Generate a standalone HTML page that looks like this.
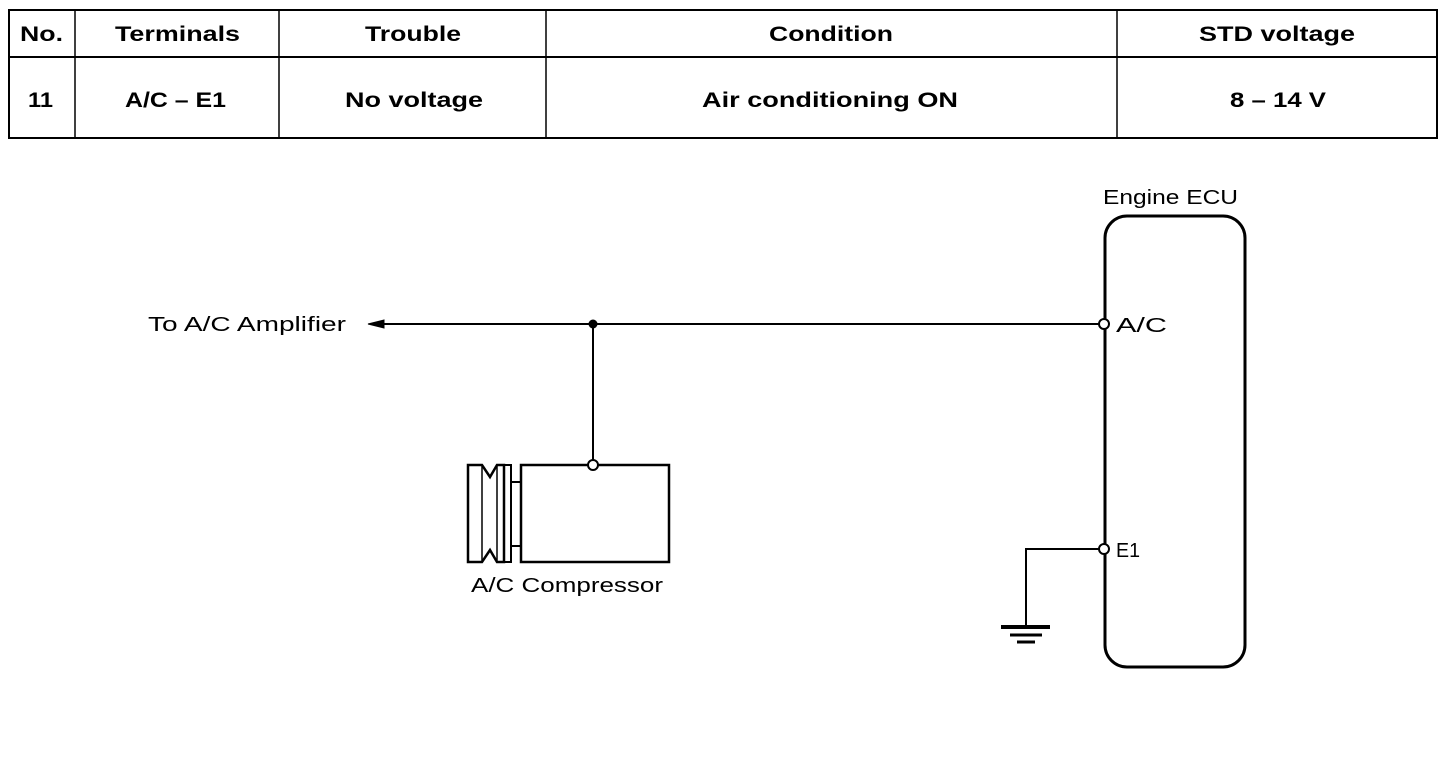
<!DOCTYPE html>
<html><head><style>
body{margin:0;background:#fff;width:1456px;height:770px;overflow:hidden;font-family:"Liberation Sans",sans-serif}
</style></head><body>
<svg width="1456" height="770" xmlns="http://www.w3.org/2000/svg" style="position:absolute;left:0;top:0">
<g fill="none" stroke="#000">
<rect x="9" y="10" width="1428" height="128" stroke-width="2"/>
<line x1="9" y1="57" x2="1437" y2="57" stroke-width="2"/>
<line x1="75" y1="10" x2="75" y2="138" stroke-width="1.5"/>
<line x1="279" y1="10" x2="279" y2="138" stroke-width="1.5"/>
<line x1="546" y1="10" x2="546" y2="138" stroke-width="1.5"/>
<line x1="1117" y1="10" x2="1117" y2="138" stroke-width="1.5"/>
</g>
<g font-family="Liberation Sans, sans-serif" font-weight="bold" font-size="21" fill="#000">
<text x="20" y="41" textLength="43" lengthAdjust="spacingAndGlyphs">No.</text>
<text x="115" y="41" textLength="125" lengthAdjust="spacingAndGlyphs">Terminals</text>
<text x="365" y="41" textLength="96" lengthAdjust="spacingAndGlyphs">Trouble</text>
<text x="769" y="41" textLength="124" lengthAdjust="spacingAndGlyphs">Condition</text>
<text x="1199" y="41" textLength="156" lengthAdjust="spacingAndGlyphs">STD voltage</text>
<text x="28" y="107" textLength="25" lengthAdjust="spacingAndGlyphs">11</text>
<text x="125" y="107" textLength="101" lengthAdjust="spacingAndGlyphs">A/C – E1</text>
<text x="345" y="107" textLength="138" lengthAdjust="spacingAndGlyphs">No voltage</text>
<text x="702" y="107" textLength="256" lengthAdjust="spacingAndGlyphs">Air conditioning ON</text>
<text x="1230" y="107" textLength="96" lengthAdjust="spacingAndGlyphs">8 – 14 V</text>
</g>
<g font-family="Liberation Sans, sans-serif" font-size="20" fill="#000">
<text x="1103" y="204" textLength="135" lengthAdjust="spacingAndGlyphs">Engine ECU</text>
<text x="148" y="331" textLength="198" lengthAdjust="spacingAndGlyphs">To A/C Amplifier</text>
<text x="1116" y="332" textLength="51" lengthAdjust="spacingAndGlyphs">A/C</text>
<text x="1116" y="557" textLength="24" lengthAdjust="spacingAndGlyphs">E1</text>
<text x="471" y="592" textLength="192" lengthAdjust="spacingAndGlyphs">A/C Compressor</text>
</g>
<g fill="none" stroke="#000">
<rect x="1105" y="216" width="140" height="451" rx="22" stroke-width="3"/>
<line x1="370" y1="324" x2="1099" y2="324" stroke-width="2"/>
<path d="M368 324 L384 320 L384 328 Z" fill="#000"/>
<line x1="593" y1="324" x2="593" y2="460" stroke-width="2"/>
<line x1="1025" y1="549" x2="1099" y2="549" stroke-width="2"/>
<line x1="1026" y1="549" x2="1026" y2="626" stroke-width="2"/>
<line x1="1001" y1="627" x2="1050" y2="627" stroke-width="4"/>
<line x1="1010" y1="635" x2="1042" y2="635" stroke-width="3"/>
<line x1="1017" y1="642" x2="1035" y2="642" stroke-width="3"/>
<rect x="521" y="465" width="148" height="97" stroke-width="2.5"/>
<path d="M521 482 L511 482 L511 546 L521 546" stroke-width="2"/>
<path d="M511 465 L504 465 L504 562 L511 562 Z" stroke-width="2"/>
<path d="M468 465 L482 465 L490 477 L497 465 L504 465 L504 562 L497 562 L490 550 L482 562 L468 562 Z" stroke-width="2.5"/>
<line x1="482" y1="465" x2="482" y2="562" stroke-width="1.5"/>
<line x1="497" y1="465" x2="497" y2="562" stroke-width="1.5"/>
</g>
<circle cx="593" cy="324" r="4.5" fill="#000"/>
<circle cx="593" cy="465" r="5" fill="#fff" stroke="#000" stroke-width="2"/>
<circle cx="1104" cy="324" r="5" fill="#fff" stroke="#000" stroke-width="2"/>
<circle cx="1104" cy="549" r="5" fill="#fff" stroke="#000" stroke-width="2"/>
</svg>
</body></html>
